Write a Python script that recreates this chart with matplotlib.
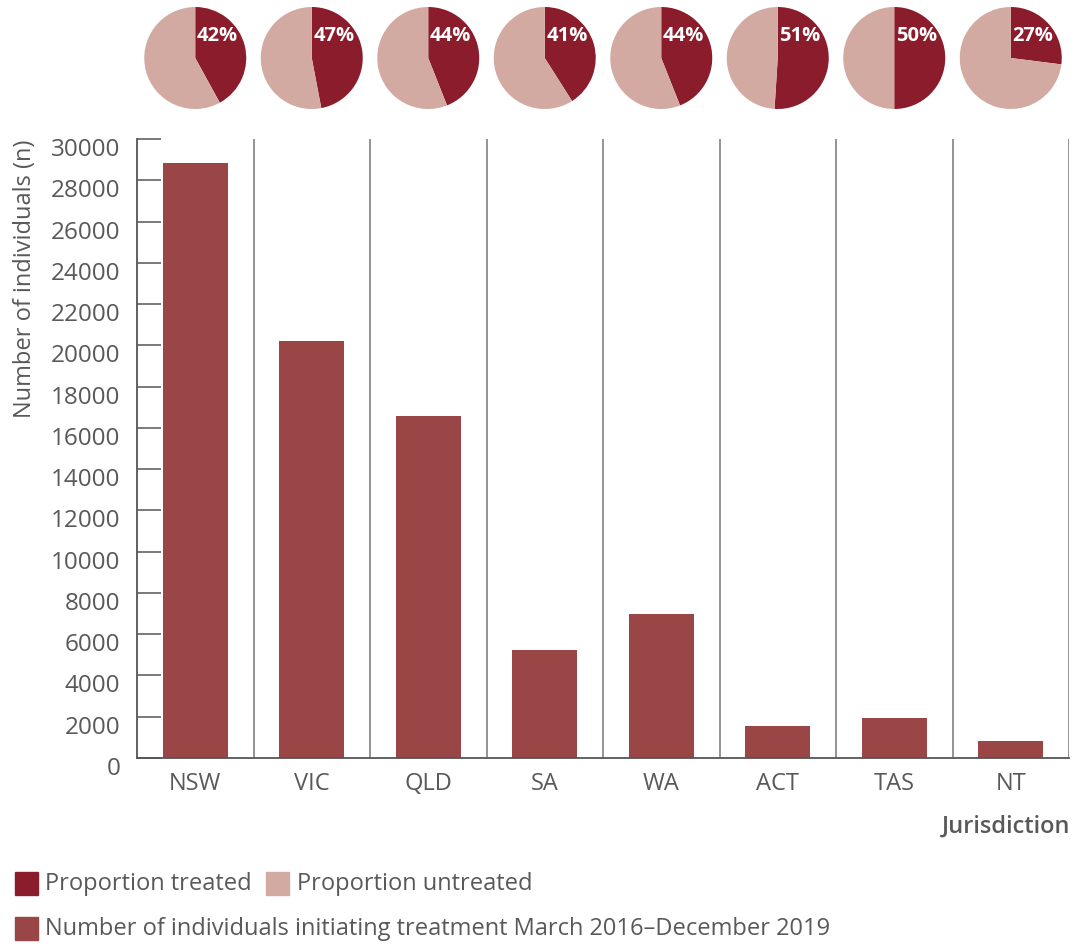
import matplotlib
matplotlib.use("Agg")
import matplotlib.pyplot as plt
from matplotlib.transforms import ScaledTranslation

# data
jurisdictions = ["NSW", "VIC", "QLD", "SA", "WA", "ACT", "TAS", "NT"]
n_initiating = [28850, 20200, 16580, 5250, 7000, 1550, 1920, 810]
pct_treated = [42, 47, 44, 41, 44, 51, 50, 27]
y_ticks = list(range(0, 30001, 2000))

TREATED = "#8a1c2b"
UNTREATED = "#d3aaa2"
BAR = "#9a4646"
TEXT = "#595959"
LINE = "#777777"

plt.rcParams["font.family"] = ["Open Sans", "DejaVu Sans"]
plt.rcParams["text.color"] = TEXT

W, H, DPI = 1077, 946, 100
fig = plt.figure(figsize=(W / DPI, H / DPI), dpi=DPI)
ax = fig.add_axes([137 / W, 1 - 758 / H, (1069 - 137) / W, (758 - 139) / H])

x = list(range(len(jurisdictions)))
ax.bar(x, n_initiating, width=0.56, color=BAR, zorder=2)
ax.set_xlim(-0.5, len(jurisdictions) - 0.5)
ax.set_ylim(0, 30000)

# category separators
for i in range(len(jurisdictions)):
    ax.axvline(i + 0.5, color=LINE, lw=1.1, zorder=1)

for side in ("top", "right"):
    ax.spines[side].set_visible(False)
for side in ("left", "bottom"):
    ax.spines[side].set_color("#555555")
    ax.spines[side].set_linewidth(1.3)

ax.set_yticks(y_ticks)
ax.set_yticklabels([str(v) for v in y_ticks])
ax.tick_params(axis="y", direction="in", length=17, width=1.1, color="#555555",
               labelsize=17.5, labelcolor=TEXT, pad=12)
ax.tick_params(axis="x", length=0, labelsize=17, labelcolor=TEXT, pad=10)
ax.set_xticks(x)
ax.set_xticklabels(jurisdictions)
shift = ScaledTranslation(0, -8 / DPI, fig.dpi_scale_trans)
for lab in ax.get_yticklabels():
    lab.set_transform(lab.get_transform() + shift)

fig.text(25 / W, 1 - 140 / H, "Number of individuals (n)", rotation=90,
         ha="center", va="top", fontsize=17, color=TEXT)
fig.text(1070 / W, 1 - 827 / H, "Jurisdiction", ha="right", va="center",
         fontsize=17, fontweight="semibold", color=TEXT)

# pies above each bar
fig.canvas.draw()
r = 51
cy = 58
for i, p in enumerate(pct_treated):
    cx = ax.transData.transform((i, 0))[0]
    pax = fig.add_axes([(cx - r) / W, 1 - (cy + r) / H, 2 * r / W, 2 * r / H])
    pax.pie([p, 100 - p], colors=[TREATED, UNTREATED], startangle=90,
            counterclock=False, radius=1.0)
    pax.set_xlim(-1, 1)
    pax.set_ylim(-1, 1)
    pax.set_aspect("equal")
    pax.axis("off")
    pax.text(0.03, 0.44, f"{p}%", ha="left", va="center", color="white",
             fontsize=14.5, fontweight="bold")

# legend
def swatch(x0, y0, color):
    fig.patches.append(plt.Rectangle((x0 / W, 1 - (y0 + 23) / H), 23 / W, 23 / H,
                                     transform=fig.transFigure, color=color))

swatch(15, 872, TREATED)
fig.text(45 / W, 1 - 884 / H, "Proportion treated", va="center", fontsize=17)
swatch(266, 872, UNTREATED)
fig.text(297 / W, 1 - 884 / H, "Proportion untreated", va="center", fontsize=17)
swatch(15, 917, BAR)
fig.text(45 / W, 1 - 929 / H,
         "Number of individuals initiating treatment March 2016\u2013December 2019",
         va="center", fontsize=17)

fig.savefig("out.png", dpi=DPI)
